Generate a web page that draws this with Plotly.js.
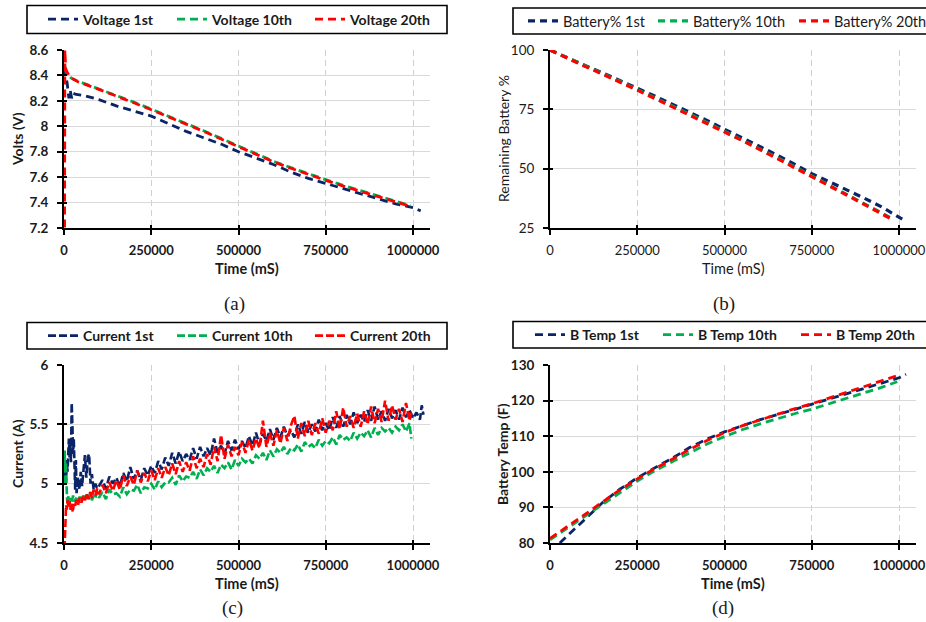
<!DOCTYPE html>
<html><head><meta charset="utf-8">
<script src="https://cdn.plot.ly/plotly-3.0.1.min.js"></script>
<style>html,body{margin:0;padding:0;background:#fff}#chart{width:926px;height:622px}</style>
</head><body><div id="chart"></div>
<script>
// ---------- (a) Voltage ----------
const volt1T = [1000,4000,9000,14000,18000,22000,26000,35000,60000,100000,150000,200000,250000,300000,350000,400000,450000,500000,550000,600000,650000,700000,750000,800000,850000,900000,950000,1000000,1022000];
const volt1 = [8.46,8.42,8.34,8.22,8.28,8.22,8.26,8.25,8.24,8.21,8.16,8.12,8.08,8.02,7.96,7.91,7.86,7.80,7.75,7.70,7.64,7.59,7.55,7.51,7.47,7.43,7.39,7.36,7.335];
const volt10T = [1000,3000,8000,20000,40000,100000,150000,200000,250000,300000,350000,400000,450000,500000,550000,600000,650000,700000,750000,800000,850000,900000,950000,993000];
const volt10 = [8.58,8.46,8.42,8.38,8.355,8.295,8.245,8.19,8.135,8.08,8.025,7.965,7.905,7.845,7.785,7.725,7.675,7.625,7.58,7.535,7.495,7.455,7.415,7.375];
const volt20T = [1500,2500,5000,10000,20000,40000,100000,150000,200000,250000,300000,350000,400000,450000,500000,550000,600000,650000,700000,750000,800000,850000,900000,950000,993000];
const volt20 = [7.0,8.6,8.45,8.42,8.38,8.35,8.29,8.24,8.185,8.13,8.075,8.02,7.96,7.90,7.84,7.78,7.72,7.67,7.62,7.575,7.53,7.49,7.45,7.41,7.37];

// ---------- (b) Battery % ----------
const batt1T = [0,50000,100000,150000,200000,250000,300000,350000,400000,450000,500000,550000,600000,650000,700000,750000,800000,850000,900000,950000,1000000,1021000];
const batt1 = [100,96.6,93.5,90.4,87.2,84.0,80.6,77.2,73.8,70.3,66.6,63.0,59.5,55.8,51.9,47.9,44.5,41.1,37.6,33.9,29.7,27.7];
const batt10T = [0,50000,100000,150000,200000,250000,300000,350000,400000,450000,500000,550000,600000,650000,700000,750000,800000,850000,900000,950000,985000];
const batt10 = [100,96.6,93.3,90.1,86.8,83.4,79.9,76.4,72.9,69.4,65.8,62.2,58.5,54.7,50.8,46.9,43.1,39.2,35.3,31.3,28.6];
const batt20T = [0,50000,100000,150000,200000,250000,300000,350000,400000,450000,500000,550000,600000,650000,700000,750000,800000,850000,900000,950000,983000];
const batt20 = [100,96.4,93.1,89.9,86.6,83.1,79.6,76.1,72.6,69.1,65.5,61.9,58.2,54.4,50.5,46.6,42.8,38.9,35.0,31.0,28.4];

// ---------- (c) Current ----------
const curGridT = [100000,110000,120000,130000,140000,150000,160000,170000,180000,190000,
200000,210000,220000,230000,240000,250000,260000,270000,280000,290000,
300000,310000,320000,330000,340000,350000,360000,370000,380000,390000,
400000,410000,420000,430000,440000,450000,460000,470000,480000,490000,
500000,510000,520000,530000,540000,550000,560000,570000,580000,590000,
600000,610000,620000,630000,640000,650000,660000,670000,680000,690000,
700000,710000,720000,730000,740000,750000,760000,770000,780000,790000,
800000,810000,820000,830000,840000,850000,860000,870000,880000,890000,
900000,910000,920000,930000,940000,950000,960000,970000,980000,990000,1000000];

const cur1EarlyT = [2000,4000,6000,8000,10000,12000,14000,16000,18000,20000,22000,24000,26000,28000,30000,32000,34000,36000,40000,44000,48000,52000,56000,60000,64000,68000,72000,76000,80000,85000,90000,95000];
const cur1Early = [5.05,5.15,5.02,5.20,5.10,5.30,5.38,5.22,5.35,5.18,5.68,5.50,5.25,5.38,5.10,4.95,5.20,4.92,5.05,4.95,5.10,4.98,5.12,5.24,5.05,5.22,5.25,5.00,5.08,4.95,5.00,4.96];
const cur1Main = [4.98,5.03,4.96,5.06,5.00,5.05,4.98,5.09,5.02,5.14,
5.04,5.11,5.03,5.13,5.07,5.15,5.09,5.19,5.12,5.22,
5.15,5.26,5.17,5.27,5.19,5.25,5.20,5.30,5.21,5.31,
5.23,5.30,5.24,5.38,5.26,5.32,5.25,5.36,5.28,5.37,
5.29,5.36,5.30,5.40,5.32,5.43,5.33,5.42,5.36,5.46,
5.37,5.47,5.39,5.48,5.40,5.45,5.39,5.50,5.42,5.52,
5.43,5.50,5.44,5.54,5.45,5.51,5.45,5.56,5.47,5.57,
5.48,5.58,5.50,5.60,5.51,5.58,5.52,5.62,5.53,5.65,
5.54,5.61,5.53,5.63,5.55,5.62,5.54,5.64,5.56,5.62,5.55];
const cur1TailT = [1010000,1020000,1025000,1030000];
const cur1Tail = [5.60,5.54,5.66,5.58];

const cur10EarlyT = [1000,2000,3500,5000,7000,9000,12000,15000,18000,22000,26000,30000,35000,40000,45000,50000,55000,60000,65000,70000,75000,80000,85000,90000,95000];
const cur10Early = [5.00,5.28,5.10,5.18,4.95,4.85,4.90,4.82,4.88,4.84,4.90,4.85,4.88,4.84,4.89,4.85,4.90,4.86,4.91,4.87,4.92,4.86,4.90,4.88,4.93];
const cur10Main = [4.88,4.93,4.87,4.95,4.91,4.92,4.89,4.97,4.91,4.95,
4.94,4.99,4.92,4.97,4.96,5.00,4.95,5.02,4.97,5.01,
5.01,5.05,4.99,5.07,5.02,5.06,5.05,5.10,5.04,5.12,
5.07,5.13,5.10,5.15,5.09,5.16,5.13,5.18,5.12,5.20,
5.15,5.21,5.18,5.21,5.17,5.24,5.21,5.26,5.20,5.28,
5.23,5.29,5.26,5.31,5.25,5.30,5.28,5.33,5.27,5.35,
5.31,5.33,5.30,5.37,5.32,5.36,5.34,5.39,5.33,5.41,
5.37,5.39,5.36,5.43,5.38,5.43,5.40,5.45,5.39,5.47,
5.41,5.47,5.44,5.47,5.43,5.48,5.45,5.50,5.44,5.51];
const cur10TailT = [995000];
const cur10Tail = [5.38];

const cur20EarlyT = [1500,2500,4000,6000,8000,10000,13000,16000,19000,22000,25000,28000,31000,35000,40000,45000,50000,55000,60000,65000,70000,75000,80000,85000,90000,95000];
const cur20Early = [4.45,4.60,4.75,4.82,4.78,4.86,4.80,4.85,4.78,4.84,4.76,4.83,4.80,4.86,4.82,4.88,4.84,4.90,4.86,4.92,4.87,4.93,4.88,4.95,4.90,4.96];
const cur20Main = [4.91,4.99,4.92,5.01,4.94,5.03,4.95,5.07,4.98,5.06,
4.99,5.11,5.01,5.09,5.02,5.11,5.03,5.13,5.05,5.14,
5.07,5.17,5.08,5.19,5.10,5.18,5.11,5.23,5.13,5.21,
5.14,5.25,5.16,5.31,5.19,5.41,5.21,5.33,5.23,5.31,
5.24,5.35,5.26,5.37,5.28,5.38,5.30,5.53,5.31,5.43,
5.32,5.45,5.34,5.47,5.36,5.49,5.57,5.38,5.51,5.40,
5.53,5.41,5.51,5.42,5.55,5.43,5.53,5.45,5.61,5.46,
5.64,5.48,5.57,5.47,5.59,5.48,5.61,5.50,5.65,5.51,
5.63,5.52,5.70,5.53,5.66,5.54,5.63,5.52,5.68,5.53];
const cur20TailT = [995000];
const cur20Tail = [5.60];

// ---------- (d) Battery temperature ----------
const temp1T = [28000,60000,100000,150000,200000,250000,300000,350000,400000,450000,500000,550000,600000,650000,700000,750000,800000,850000,900000,950000,1000000,1020000];
const temp1 = [80,83.0,86.8,91.3,95.1,98.3,101.1,103.8,106.8,109.2,111.2,113.0,114.6,116.0,117.5,118.9,120.4,122.0,123.6,125.1,126.4,127.4];
const temp10T = [0,50000,100000,150000,200000,250000,300000,350000,400000,450000,500000,550000,600000,650000,700000,750000,800000,850000,900000,950000,995000];
const temp10 = [80.9,84.2,87.6,91.0,94.3,97.4,100.3,102.8,105.4,107.8,109.9,111.8,113.4,114.9,116.3,117.6,119.1,120.6,122.1,123.7,125.3];
const temp20T = temp10T;
const temp20 = [81.3,84.6,88.0,91.5,94.9,98.0,100.9,103.5,106.3,108.8,111.0,112.9,114.5,116.2,117.7,119.1,120.7,122.3,123.9,125.6,127.0];

const seriesNames = {
  a: ['Voltage 1st','Voltage 10th','Voltage 20th'],
  b: ['Battery% 1st','Battery% 10th','Battery% 20th'],
  c: ['Current 1st','Current 10th','Current 20th'],
  d: ['B Temp 1st','B Temp 10th','B Temp 20th']
};
const colors = ['#0b2467','#00b050','#ff0000'];
const xTicks = [0,250000,500000,750000,1000000];

// ---------- build ----------
const W = 926, H = 622;
const FONT = 'Lato, "Open Sans", sans-serif';
const TXT = '#1a1a1a';
function fx(px){return px/W;}
function fy(px){return 1 - px/H;}

function line(i, x, y, name, ax, lg, width, dash, lw){
  return {type:'scatter', mode:'lines', x:x, y:y, name:name,
    xaxis:'x'+ax, yaxis:'y'+ax, legend:lg, legendwidth:lw,
    line:{color:colors[i], width:width, dash:dash}};
}
const traces = [];
const sets = [
  {k:'a', ax:'', lg:'legend', lw:[84,93,86], data:[[volt1T,volt1],[volt10T,volt10],[volt20T,volt20]], w:2.8, d:'8px,5px'},
  {k:'b', ax:'2', lg:'legend2', lw:[85,96,90], data:[[batt1T,batt1],[batt10T,batt10],[batt20T,batt20]], w:3.2, d:'7px,5px'},
  {k:'c', ax:'3', lg:'legend3', lw:[84,93,86], data:[
      [cur1EarlyT.concat(curGridT, cur1TailT), cur1Early.concat(cur1Main, cur1Tail)],
      [cur10EarlyT.concat(curGridT.slice(0,90), cur10TailT), cur10Early.concat(cur10Main, cur10Tail)],
      [cur20EarlyT.concat(curGridT.slice(0,90), cur20TailT), cur20Early.concat(cur20Main, cur20Tail)]], w:2.6, d:'8px,3px'},
  {k:'d', ax:'4', lg:'legend4', lw:[83,93,86], data:[[temp1T,temp1],[temp10T,temp10],[temp20T,temp20]], w:2.8, d:'8px,5px'}
];
sets.forEach(s=>{
  s.data.forEach((p,i)=>traces.push(line(i,p[0],p[1],seriesNames[s.k][i],s.ax,s.lg,s.w,s.d,s.lw[i])));
});
// empty carriers for the inner half of the crossing tick marks
['5','6','7','8'].forEach(n=>traces.push({type:'scatter', mode:'lines', x:[], y:[], xaxis:'x'+n, yaxis:'y'+n, showlegend:false, hoverinfo:'skip'}));

function xAxis(l, r, yAnchor, bold){
  return {domain:[fx(l),fx(r)], anchor:yAnchor, range:[0,1048700], tickvals:xTicks, tickformat:'d',
    showline:true, linecolor:'#000', linewidth:2, ticks:'outside', ticklen:5, tickwidth:2, tickcolor:'#000',
    showgrid:true, gridcolor:'#d0d0d0', gridwidth:1, griddash:'6px,4px', zeroline:false,
    ticklabelstandoff:4,
    tickfont:{family:FONT, size:13, color:TXT, weight: bold?'bold':'normal'}, fixedrange:true};
}
function yAxis(t, b, xAnchor, range, dtick, bold){
  return {domain:[fy(b),fy(t)], anchor:xAnchor, range:range, dtick:dtick, tick0:range[0],
    showline:true, linecolor:'#000', linewidth:2, ticks:'outside', ticklen:5, tickwidth:2, tickcolor:'#000',
    showgrid:true, gridcolor:'#d9d9d9', gridwidth:1, zeroline:false,
    ticklabelstandoff:6,
    tickfont:{family:FONT, size:13.5, color:TXT, weight: bold?'bold':'normal'}, fixedrange:true};
}
function innerX(over, yAnchor){
  return {overlaying:over, anchor:yAnchor, range:[0,1048700], tickvals:xTicks, ticks:'inside', ticklen:3, tickwidth:2,
    tickcolor:'#000', showticklabels:false, showgrid:false, showline:false, zeroline:false, fixedrange:true};
}
function innerY(over, xAnchor, range, dtick){
  return {overlaying:over, anchor:xAnchor, range:range, dtick:dtick, tick0:range[0], ticks:'inside', ticklen:3, tickwidth:2,
    tickcolor:'#000', showticklabels:false, showgrid:false, showline:false, zeroline:false, fixedrange:true};
}
function legend(xpx, ypx, bold, size){
  return {x:fx(xpx), xanchor:'left', y:fy(ypx), yanchor:'middle', orientation:'h',
    borderwidth:0, bgcolor:'rgba(0,0,0,0)', itemwidth:30,
    font:{family:FONT, size:size, color:TXT, weight: bold?'bold':'normal'}};
}
function box(x0,y0,x1,y1){
  return {type:'rect', xref:'paper', yref:'paper', x0:fx(x0), x1:fx(x1), y0:fy(y1), y1:fy(y0),
    line:{color:'#000', width:1.6}, fillcolor:'#fff', layer:'below'};
}
function ann(text, xpx, ypx, opts){
  return Object.assign({text:text, xref:'paper', yref:'paper', x:fx(xpx), y:fy(ypx),
    xanchor:'center', yanchor:'middle', showarrow:false,
    font:{family:FONT, size:14, color:TXT, weight:'bold'}}, opts||{});
}
const serif = {family:'"Liberation Serif", "DejaVu Serif", serif', size:19, color:TXT};
const reg = {family:FONT, size:14, color:TXT, weight:'normal'};

const layout = {
  width:W, height:H, margin:{l:0,r:0,t:0,b:0,autoexpand:false}, paper_bgcolor:'#fff', plot_bgcolor:'rgba(0,0,0,0)',
  showlegend:true, hovermode:false,
  xaxis: xAxis(64,430,'y',true),   yaxis: yAxis(50,228,'x',[7.2,8.6],0.2,true),
  xaxis2: xAxis(550,916,'y2',false), yaxis2: yAxis(50,228,'x2',[25,100],25,false),
  xaxis3: xAxis(64,430,'y3',true),  yaxis3: yAxis(365,543,'x3',[4.5,6],0.5,true),
  xaxis4: xAxis(550,916,'y4',true),  yaxis4: yAxis(365,543,'x4',[80,130],10,true),
  xaxis5: innerX('x','y5'), yaxis5: innerY('y','x5',[7.2,8.6],0.2),
  xaxis6: innerX('x2','y6'), yaxis6: innerY('y2','x6',[25,100],25),
  xaxis7: innerX('x3','y7'), yaxis7: innerY('y3','x7',[4.5,6],0.5),
  xaxis8: innerX('x4','y8'), yaxis8: innerY('y4','x8',[80,130],10),
  legend: legend(43,19.5,true,14), legend2: legend(523,21,false,14.5), legend3: legend(43,336,true,14), legend4: legend(530,335,true,14),
  shapes:[box(27,5.5,447,33.5), box(513,8,940,34), box(27,322.5,447,349), box(513,321.5,940,348)],
  annotations:[
    ann('Volts (V)', 17, 139, {textangle:-90}),
    ann('Remaining Battery %', 503, 139, {textangle:-90, font:reg}),
    ann('Current (A)', 17, 454, {textangle:-90}),
    ann('Battery Temp (F)', 502, 454, {textangle:-90}),
    ann('Time (mS)', 247, 268, {font:{family:FONT,size:14.5,color:TXT,weight:'bold'}}),
    ann('Time (mS)', 733, 268, {font:{family:FONT,size:14.5,color:TXT,weight:'normal'}}),
    ann('Time (mS)', 247, 583, {font:{family:FONT,size:14.5,color:TXT,weight:'bold'}}),
    ann('Time (mS)', 733, 583, {font:{family:FONT,size:14.5,color:TXT,weight:'bold'}}),
    ann('(a)', 234, 304, {font:serif}),
    ann('(b)', 724, 304, {font:serif}),
    ann('(c)', 233, 608, {font:serif}),
    ann('(d)', 723, 608, {font:serif})
  ]
};
Plotly.newPlot('chart', traces, layout, {staticPlot:true, displayModeBar:false});
</script></body></html>
